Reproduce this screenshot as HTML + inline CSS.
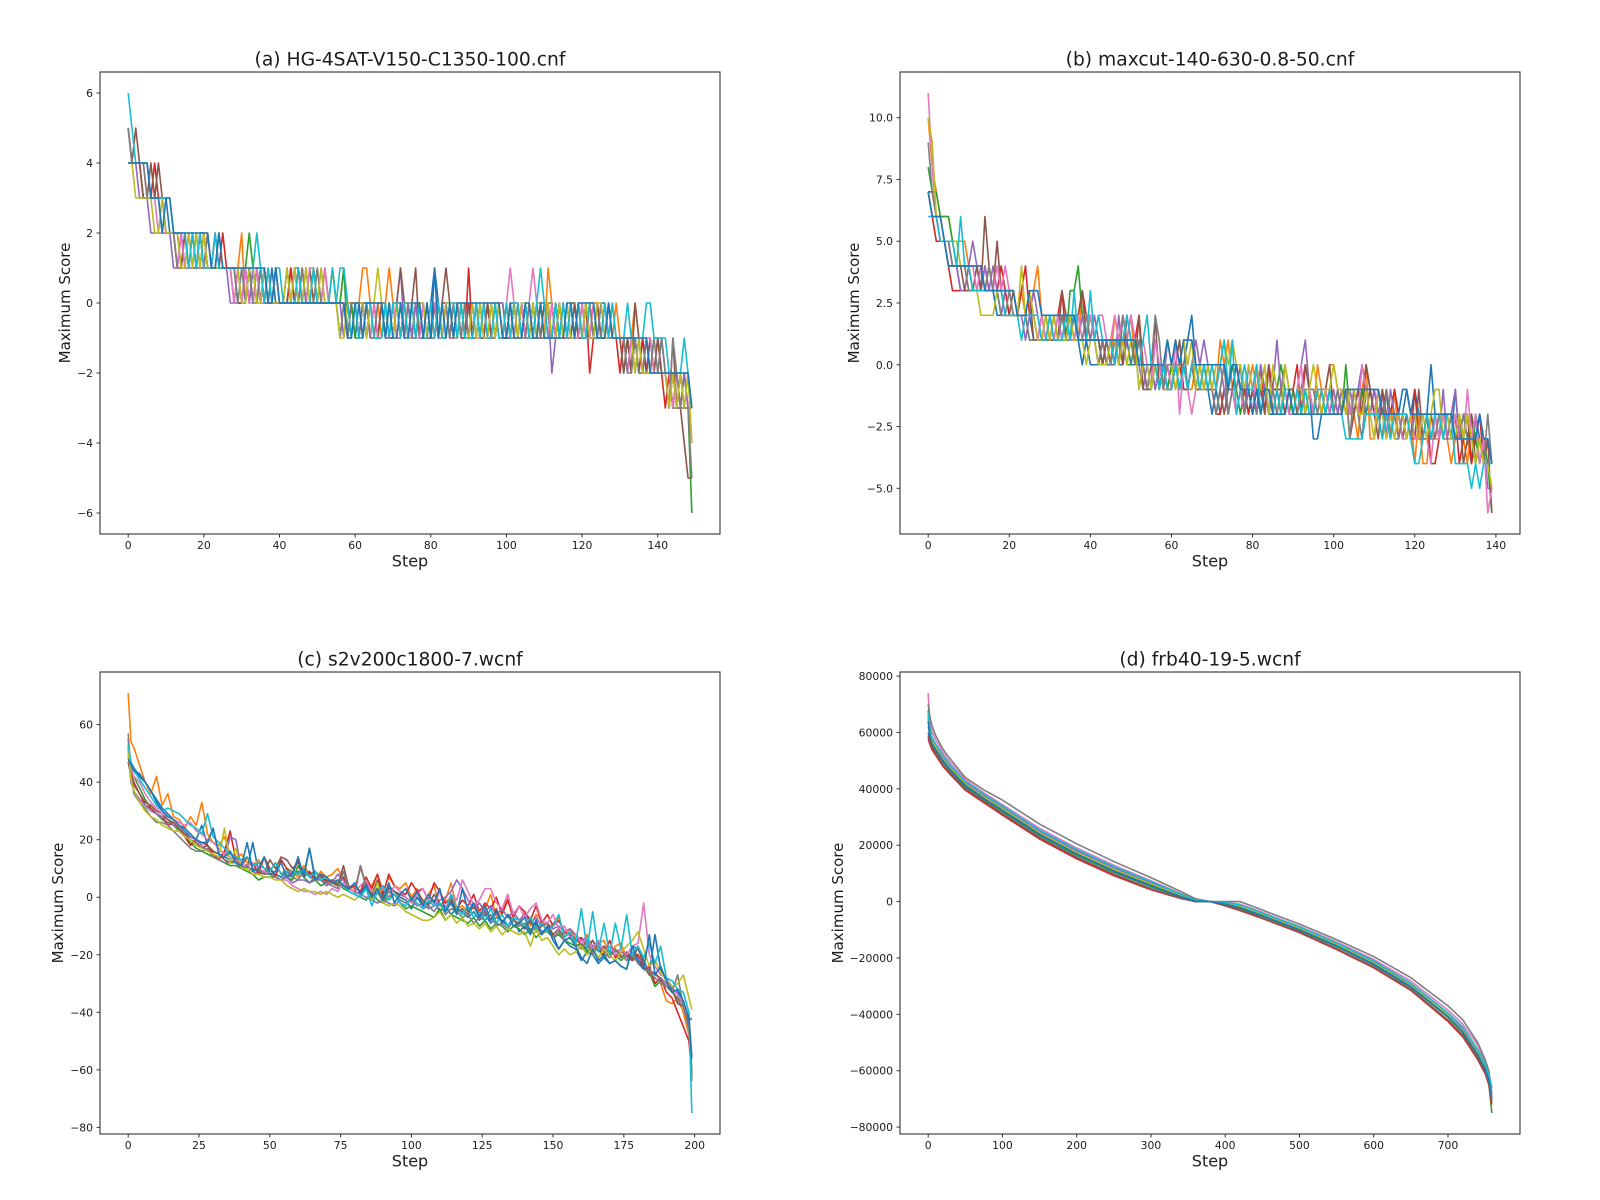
<!DOCTYPE html>
<html lang="en">
<head>
<meta charset="utf-8">
<title>Maximum Score per Step</title>
<style>
html,body{margin:0;padding:0;background:#fff;}
svg{display:block;}
text{font-family:"DejaVu Sans","Liberation Sans",sans-serif;fill:#1c1c1c;}
.title{font-size:18.7px;text-anchor:middle;}
.axis-title{font-size:16px;text-anchor:middle;}
.y-title{font-size:15px;text-anchor:middle;}
.tick{font-size:10.8px;}
.frame{fill:none;stroke:#333;stroke-width:1.1;}
.tick-mark{stroke:#333;stroke-width:1;}
.mark{fill:none;stroke-width:1.6;stroke-linejoin:round;}
</style>
</head>
<body>
<svg id="figure" width="1600" height="1200" viewBox="0 0 1600 1200" xmlns="http://www.w3.org/2000/svg">
  <rect width="1600" height="1200" fill="#fff"/>
  <g id="panel-a">
    <text class="title" x="410" y="65.5">(a) HG-4SAT-V150-C1350-100.cnf</text>
    <text class="axis-title" x="410" y="566.7">Step</text>
    <text class="y-title" transform="translate(70,303) rotate(-90)">Maximum Score</text>
  </g>
  <g id="panel-b">
    <text class="title" x="1210" y="65.5">(b) maxcut-140-630-0.8-50.cnf</text>
    <text class="axis-title" x="1210" y="566.7">Step</text>
    <text class="y-title" transform="translate(859,303) rotate(-90)">Maximum Score</text>
  </g>
  <g id="panel-c">
    <text class="title" x="410" y="665.5">(c) s2v200c1800-7.wcnf</text>
    <text class="axis-title" x="410" y="1166.7">Step</text>
    <text class="y-title" transform="translate(63,903) rotate(-90)">Maximum Score</text>
  </g>
  <g id="panel-d">
    <text class="title" x="1210" y="665.5">(d) frb40-19-5.wcnf</text>
    <text class="axis-title" x="1210" y="1166.7">Step</text>
    <text class="y-title" transform="translate(843,903) rotate(-90)">Maximum Score</text>
  </g>
</svg>
<script>
const lineColors = ["#1f77b4","#ff7f0e","#2ca02c","#d62728","#9467bd","#8c564b","#e377c2","#7f7f7f","#bcbd22","#17becf","#1f77b4"];

/* ---------- panel (a) ---------- */
const aXTicks = [0,20,40,60,80,100,120,140];
const aYTicks = [-6,-4,-2,0,2,4,6];
const aLine0 = [5,4,4,4,4,4,3,3,3,3,
3,2,2,2,2,1,1,2,1,2,
2,1,1,2,1,1,1,1,1,0,
0,1,0,1,0,1,0,0,1,0,
0,0,0,0,1,0,1,0,0,0,
0,0,0,0,0,0,0,0,-1,0,
-1,0,0,0,0,-1,-1,0,-1,0,
-1,0,0,-1,0,-1,-1,0,0,-1,
0,1,0,-1,0,0,-1,0,-1,0,
-1,0,-1,0,-1,-1,0,-1,0,-1,
-1,0,0,-1,0,-1,0,-1,-1,0,
0,-1,-1,0,-1,0,-1,0,-1,-1,
0,-1,0,-1,-1,0,0,-1,-1,-1,
-1,-1,-2,-1,-1,-2,-1,-2,-2,-2,
-2,-1,-2,-2,-3,-2,-3,-2,-2,-3];
const aLine1 = [5,4,4,4,4,3,3,3,3,3,
2,2,2,2,1,1,1,2,1,1,
2,1,1,1,1,1,1,1,1,1,
2,0,1,0,1,0,0,1,0,0,
0,0,0,1,0,0,0,1,0,0,
1,0,1,0,1,0,0,1,0,0,
0,0,1,1,0,0,0,-1,0,1,
0,-1,-1,0,-1,-1,0,0,-1,0,
-1,-1,0,-1,0,-1,0,-1,0,0,
-1,-1,0,-1,-1,0,-1,-1,0,-1,
0,-1,0,-1,-1,0,-1,-1,0,0,
-1,1,0,-1,0,-1,-1,0,0,-1,
-1,0,-1,0,0,-1,-1,-1,-1,0,
-1,-1,-1,-1,0,-1,-2,-1,-2,-2,
-2,-2,-2,-3,-2,-3,-2,-3,-2,-4];
const aLine2 = [4,4,4,4,3,3,3,3,3,2,
2,2,2,1,2,1,1,1,2,1,
1,1,1,1,1,1,1,1,1,0,
0,1,2,1,0,1,0,1,0,1,
0,0,0,1,0,0,1,0,0,0,
0,0,0,0,1,0,0,1,-1,0,
-1,-1,0,-1,0,0,-1,-1,0,-1,
-1,0,-1,0,0,-1,0,-1,-1,0,
-1,0,0,-1,-1,0,-1,0,-1,-1,
0,-1,-1,0,-1,0,-1,-1,0,0,
-1,-1,0,-1,0,-1,-1,0,-1,0,
-1,0,0,-1,-1,0,-1,0,0,-1,
-1,-1,0,-1,-1,-1,-1,0,-1,-1,
-1,-2,-1,-1,-2,-1,-2,-1,-2,-1,
-1,-2,-2,-2,-3,-3,-2,-3,-3,-6];
const aLine3 = [4,4,4,4,3,3,3,4,3,3,
2,2,2,1,1,2,1,1,1,2,
1,2,1,2,1,2,1,1,0,1,
0,0,1,0,1,0,1,0,0,1,
0,0,0,1,0,1,0,0,0,1,
0,0,0,0,0,0,0,0,-1,0,
0,-1,0,0,-1,0,-1,0,-1,-1,
0,-1,-1,0,-1,0,-1,0,-1,-1,
-1,0,-1,0,0,-1,-1,0,-1,-1,
1,-1,0,-1,-1,0,-1,-1,0,-1,
-1,0,-1,-1,0,-1,0,-1,0,-1,
-1,-1,0,-1,0,-1,-1,0,-1,0,
-1,0,-2,-1,0,-1,0,-1,-1,-1,
-2,-1,-1,-2,-1,-2,-1,-2,-1,-2,
-1,-2,-3,-2,-3,-2,-3,-2,-3,-3];
const aLine4 = [5,4,4,3,3,3,2,2,2,2,
2,2,1,1,2,1,1,1,1,2,
1,1,1,1,1,1,1,0,0,0,
0,1,0,1,0,1,0,0,0,0,
0,0,0,0,1,1,0,1,0,1,
0,1,0,0,0,0,0,-1,0,-1,
0,-1,-1,0,-1,-1,0,0,-1,-1,
0,0,1,-1,0,-1,0,-1,-1,0,
-1,0,-1,-1,0,-1,0,-1,0,-1,
0,-1,-1,0,-1,0,-1,-1,0,0,
-1,-1,0,-1,0,-1,-1,0,-1,-1,
-1,0,-2,-1,0,-1,0,-1,-1,0,
-1,0,-1,-1,0,-1,-1,0,-1,-1,
-1,-1,-1,-2,-1,-2,-2,-1,-2,-2,
-2,-2,-2,-3,-2,-3,-3,-2,-3,-3];
const aLine5 = [5,4,5,4,3,3,4,3,4,3,
2,2,2,2,1,2,1,1,1,1,
2,1,1,1,2,1,1,1,1,0,
0,0,1,0,1,0,1,0,0,0,
0,0,1,0,0,1,0,0,1,0,
0,0,1,0,0,0,-1,0,-1,0,
0,-1,0,-1,0,0,-1,0,0,-1,
-1,0,1,0,-1,0,1,-1,0,-1,
-1,0,-1,0,1,0,-1,-1,0,-1,
0,-1,0,-1,-1,0,-1,0,-1,-1,
-1,-1,0,0,-1,0,-1,0,-1,-1,
0,-1,-1,0,-1,0,-1,-1,0,-1,
-1,0,-1,-1,0,-1,-1,0,-1,-1,
-1,-2,-1,-2,0,-1,-2,-2,-1,-2,
-1,-2,-2,-3,-1,-3,-3,-4,-5,-5];
const aLine6 = [5,4,4,4,4,3,3,3,2,2,
2,2,2,1,2,1,1,1,1,1,
1,1,1,1,1,1,1,1,0,1,
0,1,0,0,1,0,0,1,0,1,
0,0,0,0,1,0,1,0,1,1,
0,0,1,0,0,0,0,0,-1,-1,
0,0,-1,0,-1,0,-1,-1,0,-1,
0,-1,-1,0,-1,0,-1,-1,0,-1,
0,0,-1,-1,0,-1,-1,0,-1,0,
-1,0,-1,-1,0,-1,-1,0,0,-1,
0,1,0,-1,0,-1,0,1,0,-1,
-1,-1,0,-1,-1,0,-1,0,-1,-1,
0,-1,-1,0,-1,-1,0,-1,-1,-1,
-1,-1,-2,-1,-1,-2,-2,-1,-1,-2,
-2,-1,-2,-2,-3,-2,-3,-3,-3,-4];
const aLine7 = [5,4,4,4,4,3,3,3,3,3,
2,2,2,1,1,1,2,1,1,1,
1,2,1,1,1,1,1,1,1,0,
1,0,1,0,0,1,0,0,0,0,
0,0,1,0,0,0,1,0,0,0,
1,0,0,0,0,0,-1,0,-1,0,
0,-1,0,0,-1,-1,0,0,-1,0,
-1,0,0,-1,0,0,-1,0,-1,0,
-1,-1,0,-1,0,-1,0,0,-1,0,
-1,-1,0,-1,0,-1,-1,0,-1,-1,
0,-1,-1,0,-1,-1,0,-1,0,-1,
-1,0,-1,-1,0,-1,0,-1,-1,0,
-1,-1,0,-1,-1,0,-1,-1,-1,-1,
-1,-1,-2,-2,-1,-2,-2,-1,-2,-1,
-2,-1,-2,-3,-1,-2,-3,-3,-3,-5];
const aLine8 = [4,4,3,3,3,3,3,2,2,3,
2,2,2,2,1,1,2,1,2,1,
2,1,1,1,1,1,1,1,1,1,
0,0,1,1,0,0,1,0,0,0,
0,0,1,0,1,0,0,1,0,1,
0,1,0,0,1,0,-1,-1,0,-1,
0,0,0,-1,0,0,1,0,-1,0,
-1,0,-1,0,-1,0,-1,0,0,-1,
0,-1,0,-1,0,0,-1,-1,0,-1,
-1,0,-1,0,-1,-1,0,-1,0,-1,
0,-1,0,-1,0,0,-1,0,-1,0,
-1,0,-1,-1,0,-1,0,-1,-1,0,
-1,0,-1,-1,0,0,-1,-1,0,-1,
-1,-1,-1,-1,-2,-1,-2,-2,-2,-2,
-2,-2,-2,-3,-2,-3,-2,-3,-2,-4];
const aLine9 = [6,5,4,4,4,4,3,3,3,3,
3,3,2,2,2,2,1,2,1,2,
1,1,1,2,1,1,1,1,1,1,
1,1,1,1,2,1,0,1,0,1,
1,0,0,0,0,1,0,0,0,1,
0,0,0,0,1,0,1,1,0,-1,
0,-1,-1,0,0,-1,-1,-1,0,-1,
0,0,-1,0,-1,0,-1,0,-1,-1,
0,-1,0,-1,-1,0,0,-1,0,-1,
-1,-1,0,-1,0,-1,-1,0,-1,-1,
0,-1,0,0,-1,0,-1,-1,0,1,
0,-1,-1,0,-1,0,-1,0,-1,0,
-1,-1,0,0,-1,-1,0,-1,0,-1,
-1,-1,0,-1,-1,-1,-1,0,0,-1,
-1,-1,-1,-2,-2,-2,-2,-1,-2,-3];
const aLine10 = [4,4,4,4,4,4,3,3,3,2,
3,3,2,2,2,2,2,2,2,2,
2,2,1,1,2,1,1,1,1,1,
1,1,1,1,1,1,1,0,0,1,
0,0,0,0,0,0,0,0,0,0,
0,0,0,0,0,0,0,0,-1,-1,
0,0,-1,0,0,0,0,0,-1,0,
-1,-1,0,-1,-1,0,0,0,-1,0,
-1,1,-1,0,-1,0,-1,0,0,0,
0,0,0,0,0,0,0,0,0,-1,
-1,0,-1,-1,-1,0,0,-1,-1,0,
-1,-1,-1,-1,-1,-1,0,0,-1,0,
0,0,0,0,-1,-1,-1,0,-1,-1,
-1,-1,-1,-1,-1,-1,-1,-1,-2,-2,
-2,-2,-2,-2,-2,-2,-2,-2,-2,-3];
const aSeries = [aLine0,aLine1,aLine2,aLine3,aLine4,aLine5,aLine6,aLine7,aLine8,aLine9,aLine10];

/* ---------- panel (b) ---------- */
const bXTicks = [0,20,40,60,80,100,120,140];
const bYTicks = [-5,-2.5,0,2.5,5,7.5,10];
const bYTickLabels = ["−5.0","−2.5","0.0","2.5","5.0","7.5","10.0"];
const bLine0 = [7,7,6,6,5,4,4,4,3,3,
3,3,3,3,3,3,3,2,2,3,
2,2,2,2,2,2,1,1,1,2,
1,1,2,1,1,1,1,1,0,1,
0,0,0,1,0,0,1,0,0,1,
0,0,0,0,-1,0,-1,0,-1,0,
-1,0,-1,0,1,2,0,-1,-1,-1,
-2,-1,-2,-1,-2,-1,0,-1,-2,-1,
-2,-1,-2,-1,-2,-2,-1,-2,-1,-2,
-2,-1,-2,-2,-1,-3,-3,-2,-1,-2,
-2,-1,-2,-1,-2,-1,-2,-1,-2,-1,
-2,-1,-2,-1,-3,-1,-2,-2,-1,-2,
-1,-2,-3,-2,0,-2,-3,-2,-2,-3,
-1,-3,-2,-3,-4,-2,-3,-4,-3,-4];
const bLine1 = [10,8,7,6,6,6,5,5,5,5,
4,4,4,3,3,3,3,3,3,3,
3,2,2,3,2,2,3,4,2,2,
1,2,1,2,2,1,2,1,3,1,
2,1,1,0,1,0,2,1,0,1,
2,0,1,0,-1,0,1,0,-1,-1,
0,1,0,0,-1,-1,0,-1,-1,0,
-1,-1,1,0,1,-1,0,-1,-2,-1,
0,-1,-2,-1,0,-2,-1,-1,-2,-1,
-2,-1,-2,-1,-1,-2,0,-1,-1,0,
0,-1,-2,-1,-2,-2,-3,-1,0,-3,
-3,-2,-3,-2,-3,-1,-3,-2,-3,-2,
-4,-2,-4,-4,-2,-3,-3,-2,-3,-4,
-3,-2,-3,-4,-2,-3,-3,-4,-4,-5];
const bLine2 = [8,7,7,6,6,6,5,4,4,4,
3,3,3,4,3,4,3,3,2,2,
2,2,2,2,2,1,1,1,1,1,
2,1,1,2,1,3,3,4,2,1,
1,1,1,0,1,1,0,1,1,0,
0,1,-1,0,-1,-1,0,-1,0,-1,
0,0,-1,0,-1,0,-1,0,0,-1,
-1,-2,-1,0,-1,0,-1,-2,-1,-2,
-1,-2,0,-1,-2,-1,-1,0,-1,-2,
-1,-2,-1,-1,-2,-2,-1,-2,-2,-1,
-2,-1,-2,0,-2,-1,-2,-1,-2,-2,
-1,-2,-2,-3,-2,-2,-2,-3,-2,-3,
-2,-3,-3,-2,-3,-2,-3,-2,-3,-2,
-3,-2,-3,-3,-2,-3,-4,-3,-4,-6];
const bLine3 = [7,6,5,5,5,4,3,3,3,3,
4,3,3,3,4,3,3,3,4,3,
2,2,2,3,4,2,2,1,2,1,
1,2,2,3,1,2,1,2,3,2,
1,1,0,1,0,1,1,0,2,1,
2,1,2,0,-1,0,0,-1,0,-1,
-1,0,0,-1,-1,0,-1,-1,0,-1,
-1,-2,-2,-1,-1,-1,0,-1,-1,-2,
-1,-2,0,-2,0,-1,-1,-2,-2,-1,
-1,0,-2,0,-1,-2,-1,-2,-2,-1,
-2,-2,-1,-2,-1,-2,-1,-2,0,-1,
-2,-1,-2,-1,-2,-1,-2,-3,-2,-3,
-1,-3,-3,-2,-4,-4,-3,-2,-3,-3,
-2,-4,-3,-2,-4,-3,-2,-4,-3,-4];
const bLine4 = [7,6,6,5,5,5,4,4,3,3,
4,5,4,3,4,3,4,3,2,3,
3,3,2,2,1,2,3,2,1,2,
1,2,2,1,2,1,2,1,2,1,
1,2,1,1,0,1,0,2,0,1,
1,0,0,-1,0,0,-1,0,-1,1,
0,0,-1,0,-1,0,1,0,1,0,
-1,-1,0,-1,-2,-1,-2,-1,-2,0,
-1,-2,0,-1,-2,-1,1,-1,0,-1,
-2,-1,0,1,-1,-2,-1,-2,-1,-2,
-1,-2,-1,-2,-1,-2,-1,0,-1,-2,
-1,-2,-1,-3,-1,-2,-3,-2,-3,-2,
-2,-3,-2,-2,-3,-2,-3,-1,-3,-2,
-1,-3,-2,-2,-3,-3,-2,-3,-5,-5];
const bLine5 = [7,7,6,5,5,5,4,4,4,3,
3,3,4,3,6,4,3,5,3,2,
2,3,2,2,2,3,1,1,1,1,
1,1,1,3,2,1,2,2,3,1,
1,1,1,0,1,0,0,1,0,2,
1,0,2,-1,-1,-1,2,-1,0,-1,
-1,0,1,-1,-1,0,-1,0,-1,0,
-1,-2,-1,-2,-1,-1,0,-1,-2,-1,
-2,-1,-1,-2,0,-2,-1,-1,-2,-1,
-1,-2,-1,0,-1,-2,-1,-2,-1,0,
-2,-1,-2,-1,-3,-2,-1,-2,0,-1,
-2,-3,-1,-2,-3,-2,-2,-3,-2,-3,
-3,-1,-3,-3,-2,-3,-2,-3,-2,-3,
-3,-2,-4,-3,-2,-4,-3,-4,-3,-6];
const bLine6 = [11,8,6,5,5,5,4,4,4,4,
4,4,3,4,3,4,3,4,3,4,
3,3,2,2,2,2,2,1,2,1,
2,1,2,1,2,1,1,2,1,2,
2,1,2,2,1,1,2,1,2,1,
2,1,0,1,0,-1,1,0,-1,0,
-1,1,-2,0,-1,-2,-1,0,-1,0,
-1,-2,-1,0,-2,-1,-2,-1,-2,-1,
-2,0,-2,-1,-2,-1,-2,-1,-1,-2,
-2,-1,0,-2,-1,-2,-1,-2,-1,-2,
-2,-1,-2,-1,-2,-1,-2,0,-1,-2,
-2,-1,-2,-2,-3,-2,-2,-3,-3,-2,
-3,-3,-2,-3,-4,-2,-3,-2,-3,-3,
-2,-3,-3,-1,-3,-2,-4,-3,-6,-5];
const bLine7 = [9,7,6,6,5,5,4,4,4,4,
3,3,3,3,3,4,3,3,2,2,
3,2,2,2,2,1,1,1,1,1,
1,2,1,2,1,1,2,1,1,2,
1,1,0,1,1,0,1,0,2,1,
1,0,1,0,-1,0,2,1,-1,0,
0,-1,0,1,-1,0,-1,0,-1,0,
-1,-2,-1,0,-2,-1,-1,0,-2,-1,
-1,-2,-1,-1,-2,-1,-2,-1,0,-1,
-2,-2,-1,-2,-1,-1,-2,-1,-2,-1,
-2,-1,-2,-1,-3,-1,-2,-3,-1,-2,
-2,-2,-3,-1,-2,-3,-3,-2,-2,-3,
-2,-3,-3,-2,-3,-3,-2,-3,-3,-2,
-3,-3,-2,-3,-3,-4,-3,-4,-2,-4];
const bLine8 = [10,9,6,6,5,5,5,5,4,4,
4,3,3,2,2,2,2,3,3,2,
2,2,2,4,2,3,2,1,1,2,
1,2,1,1,1,2,1,1,1,0,
1,1,0,0,0,1,1,0,1,0,
1,1,-1,0,0,-1,0,0,0,1,
0,-1,0,1,0,1,-1,0,-1,0,
-1,0,0,1,0,1,0,0,-1,0,
-1,0,-1,0,-2,0,-1,-2,0,-1,
-2,-1,-1,-2,-1,0,-1,-2,-1,-1,
0,-1,-1,-2,-1,-1,-2,-2,-1,-2,
-3,-1,-2,-3,-2,-3,-2,-2,-3,-2,
-2,-3,-2,-3,-2,-1,-1,-3,-2,-3,
-3,-2,-3,-2,-3,-4,-3,-4,-4,-5];
const bLine9 = [6,6,6,5,5,5,5,4,6,4,
4,3,3,3,3,3,3,3,3,2,
2,2,2,1,2,2,2,2,1,1,
2,1,1,1,2,1,3,1,1,1,
3,1,2,1,1,1,0,1,1,2,
1,1,0,1,2,0,0,-1,0,-1,
-1,0,-1,0,-1,0,0,-1,0,-1,
0,-1,0,1,-1,1,-2,-1,0,-1,
-1,0,-2,-1,-1,-2,-1,-2,-1,-1,
-2,-1,-2,-1,-2,-2,-1,-1,-2,-1,
-2,-2,-2,-3,-3,-3,-3,-3,-2,-2,
-2,-2,-3,-2,-3,-2,-2,-2,-2,-3,
-4,-4,-3,-2,-3,-2,-2,-3,-2,-2,
-4,-4,-4,-4,-5,-4,-5,-4,-4,-4];
const bLine10 = [7,6,6,6,5,4,4,4,4,4,
4,4,4,4,3,3,3,3,3,3,
3,3,2,2,2,3,3,3,2,2,
2,2,2,2,2,2,2,1,1,1,
1,1,1,1,1,1,1,1,1,1,
1,1,0,0,0,0,0,0,0,1,
0,1,0,1,1,1,0,0,0,0,
0,0,0,0,-1,0,0,-1,-1,-1,
-2,-1,-2,-1,-1,-2,-2,-2,-2,-1,
-2,-2,-2,-2,-2,-2,-2,-2,-2,-2,
-2,-2,-2,-1,-1,-1,-1,-1,-1,-1,
-1,-1,-2,-2,-2,-2,-2,-1,-1,-2,
-2,-2,-2,-2,-2,-2,-2,-2,-2,-2,
-3,-3,-3,-3,-3,-3,-2,-3,-3,-4];
const bSeries = [bLine0,bLine1,bLine2,bLine3,bLine4,bLine5,bLine6,bLine7,bLine8,bLine9,bLine10];

/* ---------- panel (c) ---------- */
const cXTicks = [0,25,50,75,100,125,150,175,200];
const cYTicks = [-80,-60,-40,-20,0,20,40,60];
const cSteps = [0,1,2,4,6,8,10,12,14,16,
18,20,22,24,26,28,30,32,34,36,
38,40,42,44,46,48,50,52,54,56,
58,60,62,64,66,68,70,72,74,76,
78,80,82,84,86,88,90,92,94,96,
98,100,102,104,106,108,110,112,114,116,
118,120,122,124,126,128,130,132,134,136,
138,140,142,144,146,148,150,152,154,156,
158,160,162,164,166,168,170,172,174,176,
178,180,182,184,186,188,190,192,194,196,
198,199];
const cLine0 = [49,47,45,42,40,37,34,31,29,27,
25,23,21,20,25,18,16,15,14,13,
14,11,10,19,9,8,10,8,7,9,
7,9,8,17,7,6,6,5,4,4,
3,2,1,5,0,3,-2,4,2,0,
-1,-4,0,-3,-2,-1,-5,-3,-6,-4,
-5,-7,-5,-8,-6,-9,-7,-8,-10,-7,
-12,-10,-13,-9,-12,-11,-13,-18,-15,-17,
-18,-22,-19,-20,-23,-21,-23,-22,-24,-25,
-17,-18,-22,-26,-13,-25,-29,-32,-33,-36,
-43,-42];
const cLine1 = [71,54,52,46,40,36,42,32,36,28,
27,24,28,25,33,22,19,18,21,15,
14,15,12,11,13,10,9,12,8,10,
9,7,11,8,6,9,7,8,10,6,
4,3,10,5,4,8,2,7,4,3,
5,0,3,-2,1,4,-3,-1,5,-4,
-3,-5,-2,-6,-4,1,-7,-5,0,-8,
-9,-5,-10,-6,-8,-12,-9,-7,-13,-11,
-14,-17,-13,-19,-16,-15,-20,-17,-16,-21,
-19,-20,-24,-27,-28,-30,-36,-37,-35,-40,
-48,-56];
const cLine2 = [55,44,42,38,34,31,29,27,26,25,
23,21,19,17,16,15,14,13,12,11,
11,10,9,8,6,7,7,7,6,7,
6,11,7,5,6,4,5,6,5,3,
2,1,0,-1,2,-1,-2,0,1,-2,
-4,-3,-4,-5,-6,-7,-4,-8,-6,-7,
-8,-9,-7,-10,-8,-11,-9,-10,-12,-10,
-11,-13,-11,-14,-12,-12,-14,-13,-15,-16,
-17,-16,-19,-17,-18,-21,-19,-20,-22,-20,
-21,-22,-24,-26,-31,-29,-31,-33,-35,-37,
-45,-60];
const cLine3 = [52,43,40,36,32,31,29,28,25,26,
24,21,18,20,19,18,15,13,16,23,
13,12,11,12,8,14,10,7,13,10,
8,13,7,9,6,8,5,6,4,7,
3,4,2,7,3,8,1,8,4,2,
1,5,2,3,-1,5,2,-2,0,-4,
-1,-3,1,-5,-2,-4,0,-6,-1,-7,
-3,-5,-8,-3,-9,-6,-10,-8,-12,-13,
-15,-14,-17,-15,-18,-20,-15,-21,-19,-20,
-22,-20,-25,-24,-30,-28,-33,-35,-40,-45,
-50,-62];
const cLine4 = [50,40,37,34,32,30,29,28,27,25,
24,22,21,20,18,16,15,14,14,21,
20,10,11,9,8,9,8,7,6,7,
5,6,6,5,7,6,4,5,8,6,
3,2,1,0,-1,-2,-1,-2,-3,-1,
-2,-1,-3,-2,-4,-3,-1,0,2,6,
3,-1,-4,-2,-5,-3,-6,-4,-7,-5,
-8,-6,-9,-7,-10,-9,-11,-10,-12,-11,
-13,-15,-14,-17,-16,-18,-17,-19,-18,-21,
-22,-21,-23,-25,-27,-28,-30,-32,-36,-38,
-44,-63];
const cLine5 = [47,42,39,36,33,32,30,29,27,26,
24,22,20,19,17,18,16,15,13,12,
13,11,14,10,9,8,13,10,14,13,
10,12,9,8,9,7,6,5,4,11,
3,2,11,4,1,6,0,3,2,1,
0,-2,2,-1,-3,1,-2,-4,-1,-5,
-4,-6,-3,-7,-5,-8,-4,-9,-6,-8,
-9,-11,-8,-12,-10,-9,-13,-11,-14,-12,
-15,-16,-18,-15,-19,-17,-20,-18,-21,-19,
-22,-17,-24,-27,-26,-29,-31,-32,-37,-38,
-44,-62];
const cLine6 = [53,45,42,40,36,33,31,29,28,27,
26,25,26,23,22,20,19,17,15,14,
13,12,11,12,10,9,8,7,6,6,
4,3,2,2,1,2,1,3,2,5,
3,2,4,6,2,1,3,0,4,2,
0,-2,1,3,-1,-3,2,-4,1,-1,
6,2,-3,-1,3,3,-2,-4,1,-6,
-3,-7,-4,-2,-8,-9,-6,-11,-10,-14,
-13,-16,-14,-18,-15,-19,-17,-20,-18,-20,
-17,-16,-2,-20,-24,-27,-28,-31,-34,-37,
-42,-55];
const cLine7 = [57,43,36,33,31,28,26,26,25,23,
21,19,17,16,16,17,14,13,12,12,
12,10,11,9,10,8,8,7,6,8,
7,6,9,7,6,6,5,4,3,9,
2,1,11,3,-1,2,-2,2,1,-1,
-2,-1,-2,-4,-3,-5,-2,-6,-4,-5,
-7,-6,-9,-7,-8,-6,-10,-9,-11,-8,
-10,-9,-12,-10,-13,-11,-14,-12,-15,-14,
-16,-18,-15,-20,-17,-19,-21,-18,-20,-22,
-20,-23,-25,-26,-28,-30,-31,-33,-27,-38,
-46,-64];
const cLine8 = [51,41,37,33,30,28,27,25,24,23,
23,21,20,18,17,16,15,14,24,12,
17,10,10,8,8,7,7,6,6,4,
3,2,3,2,2,1,2,1,0,1,
0,-1,1,4,-1,5,-2,-3,-2,-3,
-5,-6,-7,-8,-8,-7,-5,-8,-6,-9,
-7,-10,-9,-11,-9,-12,-10,-13,-11,-12,
-13,-12,-17,-11,-15,-14,-17,-20,-18,-20,
-19,-17,-20,-18,-21,-18,-20,-22,-19,-17,
-15,-12,-18,-24,-22,-26,-29,-31,-30,-27,
-35,-39];
const cLine9 = [53,47,44,41,38,35,32,30,31,30,
29,27,25,24,22,29,21,19,17,15,
14,13,14,11,12,10,9,12,8,9,
9,8,10,7,9,6,7,5,6,4,
2,1,0,3,-3,2,4,-1,1,-2,
-3,0,-2,-4,-1,-3,-2,-5,1,-4,
-6,-3,-7,-5,-8,-4,-9,-6,-10,-7,
-8,-10,-7,-11,-9,-12,-10,-6,-14,-12,
-16,-4,-18,-5,-19,-9,-20,-9,-18,-6,
-20,-17,-21,-16,-23,-17,-28,-29,-32,-33,
-40,-75];
const cLine10 = [48,46,44,43,40,37,33,30,28,27,
25,24,22,20,19,19,24,15,14,16,
12,11,19,9,10,14,8,9,12,7,
8,14,7,17,6,8,7,5,6,4,
3,5,1,4,0,3,-1,5,-2,1,
3,-1,2,-3,1,-2,3,-5,-2,-6,
3,-5,-2,-7,-3,-8,-5,-9,-6,-10,
-9,-7,-12,-8,-13,-10,-15,-18,-15,-14,
-17,-21,-23,-18,-22,-20,-23,-22,-24,-25,
-17,-22,-25,-13,-27,-24,-29,-33,-32,-36,
-42,-56];
const cSeries = [cLine0,cLine1,cLine2,cLine3,cLine4,cLine5,cLine6,cLine7,cLine8,cLine9,cLine10];

/* ---------- panel (d) ---------- */
const dXTicks = [0,100,200,300,400,500,600,700];
const dYTicks = [-80000,-60000,-40000,-20000,0,20000,40000,60000,80000];
const dSteps = [0,2,5,10,20,30,50,75,100,150,200,250,300,340,360,380,400,420,450,500,550,600,650,700,720,740,750,755,759];
const dLine0 = [60000,58000,55500,53500,49500,46200,40700,36200,31900,23400,16400,10400,5200,1600,0,0,-1000,-2500,-5200,-10200,-16000,-22500,-30500,-41000,-46500,-54500,-59500,-63500,-70000];
const dLine1 = [62000,59500,57000,54500,50500,47000,41500,37000,32700,24200,17200,11200,6000,2000,200,0,-800,-2000,-4800,-9800,-15500,-22000,-30000,-40500,-46000,-54000,-59000,-63000,-69000];
const dLine2 = [68000,60000,56000,54000,49800,46500,41000,36400,32100,23600,16600,10600,5400,1700,100,0,-1000,-2400,-5100,-10100,-15900,-22300,-30300,-41000,-46500,-55000,-60000,-64500,-75000];
const dLine3 = [58000,56000,54000,52000,48000,45000,39500,35100,30700,22200,15200,9200,4200,1100,0,0,-1500,-3200,-6000,-11000,-17000,-23500,-31500,-42500,-48000,-56000,-61000,-65000,-72000];
const dLine4 = [65000,61000,58000,55500,51500,48000,42300,37600,33500,25000,18000,12000,6700,2400,400,0,-500,-1500,-4400,-9400,-15000,-21500,-29500,-40000,-45000,-53000,-58000,-62000,-68000];
const dLine5 = [59000,57000,54800,52800,48500,45500,40000,35600,31200,22700,15700,9700,4500,1200,0,0,-1400,-3000,-5800,-10800,-16700,-23200,-31200,-42000,-47500,-55500,-60500,-64500,-71000];
const dLine6 = [74000,64000,60500,57500,52800,49300,43200,38600,34400,26000,19000,12900,7400,2900,700,0,-300,-900,-3800,-8800,-14300,-20500,-28200,-38500,-43500,-51000,-57000,-61000,-66000];
const dLine7 = [70000,66000,62500,59000,54000,50500,44000,39600,36000,27500,20500,14200,8500,3600,1000,0,0,0,-3000,-8000,-13500,-19500,-27000,-37000,-42000,-50000,-56000,-60000,-68000];
const dLine8 = [66000,60000,57000,54800,50500,47200,41700,37100,32900,24400,17400,11400,6200,2100,300,0,-700,-1800,-4600,-9600,-15300,-21800,-29800,-40200,-45800,-53800,-58800,-62800,-69000];
const dLine9 = [67000,62000,58500,56000,51800,48300,42600,38100,33900,25400,18500,12400,7100,2700,500,0,-400,-1200,-4100,-9000,-14700,-21000,-29000,-39500,-44500,-52500,-57500,-61500,-66000];
const dLine10 = [64000,59000,56000,54000,50000,46700,41200,36600,32400,23900,16900,10900,5700,1800,100,0,-900,-2200,-5000,-10000,-15700,-22200,-30200,-40800,-46300,-54300,-59300,-63300,-70000];
const dSeries = [dLine0,dLine1,dLine2,dLine3,dLine4,dLine5,dLine6,dLine7,dLine8,dLine9,dLine10];

const SVG_NS = "http://www.w3.org/2000/svg";
const PLOT_W = 620, PLOT_H = 462;

function fmtTick(v){ return v < 0 ? "\u2212" + Math.abs(v) : String(v); }

function indexSteps(arr){ return arr.map(function(_, i){ return i; }); }

function drawPanel(id, left, top, series, steps, xTicks, yTicks, yLabels){
  const g = document.getElementById("panel-" + id);
  const allX = steps, allY = [].concat.apply([], series);
  const x0 = Math.min.apply(null, allX), x1 = Math.max.apply(null, allX);
  const y0 = Math.min.apply(null, allY), y1 = Math.max.apply(null, allY);
  const mx = (x1 - x0) * 0.05, my = (y1 - y0) * 0.05;
  const xScale = function(v){ return left + (v - (x0 - mx)) / (x1 - x0 + 2 * mx) * PLOT_W; };
  const yScale = function(v){ return top + PLOT_H - (v - (y0 - my)) / (y1 - y0 + 2 * my) * PLOT_H; };

  const frame = document.createElementNS(SVG_NS, "rect");
  
  
  frame.setAttribute("class", "frame");
  frame.setAttribute("x", left);
  frame.setAttribute("y", top);
  frame.setAttribute("width", PLOT_W);
  frame.setAttribute("height", PLOT_H);
  g.appendChild(frame);

  series.forEach(function(values, si){
    const line = document.createElementNS(SVG_NS, "polyline");
    
    
    line.setAttribute("class", "mark");
    line.setAttribute("stroke", lineColors[si % lineColors.length]);
    line.setAttribute("points", values.map(function(v, i){
      return xScale(steps[i]).toFixed(2) + "," + yScale(v).toFixed(2);
    }).join(" "));
    g.appendChild(line);
  });

  xTicks.forEach(function(t){
    const px = xScale(t);
    const mark = document.createElementNS(SVG_NS, "line");
    
    
    mark.setAttribute("class", "tick-mark");
    mark.setAttribute("x1", px);
    mark.setAttribute("x2", px);
    mark.setAttribute("y1", top + PLOT_H);
    mark.setAttribute("y2", top + PLOT_H + 3.5);
    g.appendChild(mark);
    const label = document.createElementNS(SVG_NS, "text");
    
    
    label.setAttribute("class", "tick");
    label.setAttribute("x", px);
    label.setAttribute("y", top + PLOT_H + 15);
    label.setAttribute("text-anchor", "middle");
    label.textContent = fmtTick(t);
    g.appendChild(label);
  });

  yTicks.forEach(function(t, i){
    const py = yScale(t);
    const mark = document.createElementNS(SVG_NS, "line");
    
    
    mark.setAttribute("class", "tick-mark");
    mark.setAttribute("x1", left - 3.5);
    mark.setAttribute("x2", left);
    mark.setAttribute("y1", py);
    mark.setAttribute("y2", py);
    g.appendChild(mark);
    const label = document.createElementNS(SVG_NS, "text");
    
    
    label.setAttribute("class", "tick");
    label.setAttribute("x", left - 7);
    label.setAttribute("y", py + 4);
    label.setAttribute("text-anchor", "end");
    label.textContent = yLabels ? yLabels[i] : fmtTick(t);
    g.appendChild(label);
  });
}

drawPanel("a", 100, 72, aSeries, indexSteps(aLine0), aXTicks, aYTicks);
drawPanel("b", 900, 72, bSeries, indexSteps(bLine0), bXTicks, bYTicks, bYTickLabels);
drawPanel("c", 100, 672, cSeries, cSteps, cXTicks, cYTicks);
drawPanel("d", 900, 672, dSeries, dSteps, dXTicks, dYTicks);
</script>
</body>
</html>
